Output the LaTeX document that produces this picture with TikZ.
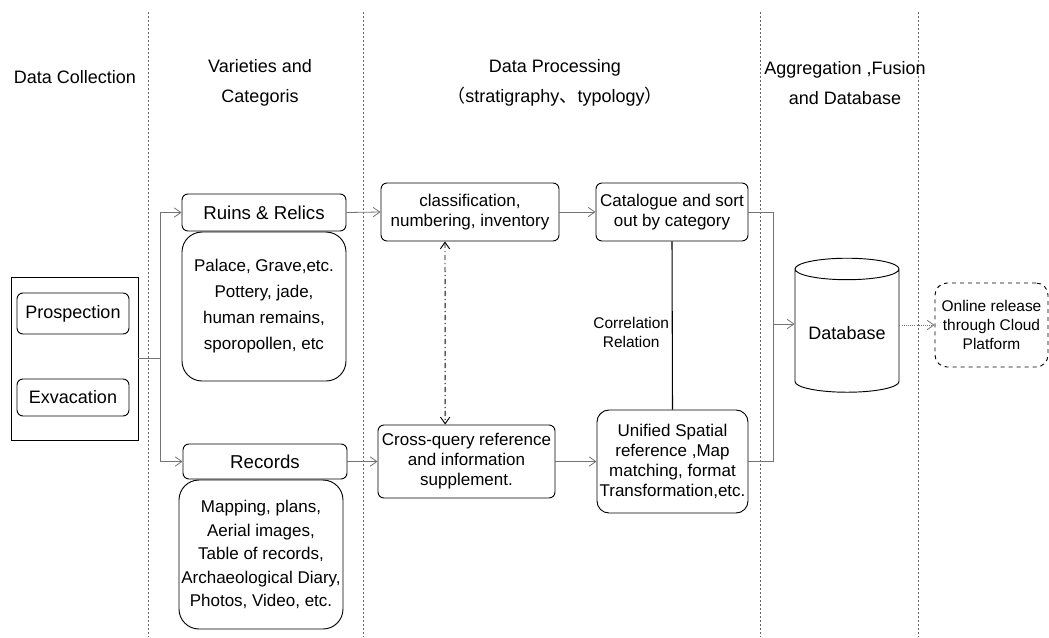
\documentclass[tikz,border=0pt]{standalone}
\usepackage{fontspec}
\setmainfont{Liberation Sans}
\newfontfamily\cjkfont{Noto Sans CJK SC}
\usetikzlibrary{shapes.geometric,arrows.meta}

\begin{document}
\begin{tikzpicture}[x=0.75pt, y=-0.75pt,
  box/.style={draw, rounded corners=4.5pt, line width=0.7pt, align=center, inner sep=1pt},
  bigbox/.style={box, rounded corners=15pt},
  conn/.style={draw=black!55, line width=0.6pt, -{Straight Barb[length=5pt, width=7pt]}},
  sepline/.style={draw=black!60, dash pattern=on 1.5pt off 1.5pt, line width=0.5pt},
  head/.style={align=center, font=\fontsize{13.5}{22.5}\selectfont},
  txt/.style={font=\fontsize{12.75}{15}\selectfont}]
  \useasboundingbox (0,0) rectangle (1049,637);
  % column separators
  \draw[sepline] (148,12) -- (148,637);
  \draw[sepline] (363,12) -- (363,637);
  \draw[sepline] (760,12) -- (760,637);
  \draw[sepline] (918,12) -- (918,637);
  % headers
  \node[head] (hcollect) at (75,77) {Data Collection};
  \node[head] (hvariety) at (260,83) {Varieties and\\Categoris};
  \node[head] (hprocess) at (555,83) {Data Processing\\{\cjkfont （}stratigraphy{\cjkfont 、}typology{\cjkfont ）}};
  \node[head] (haggreg) at (845,83) {Aggregation ,Fusion\\and Database};
  % data collection
  \node[draw, line width=0.7pt, minimum width=95.25pt, minimum height=122.25pt] (collect) at (74.5,358.5) {};
  \node[box, font=\fontsize{13.5}{16}\selectfont, minimum width=84pt, minimum height=30.75pt] (prosp) at (73,313.5) {Prospection};
  \node[box, font=\fontsize{13.5}{16}\selectfont, minimum width=84pt, minimum height=27.75pt] (exva) at (73,397.5) {Exvacation};
  % varieties and categories
  \node[box, font=\fontsize{14}{16}\selectfont, minimum width=123pt, minimum height=27.75pt] (ruins) at (264,212.5) {Ruins \& Relics};
  \node[bigbox, font=\fontsize{12.75}{19.5}\selectfont, minimum width=123pt, minimum height=111.75pt] (ruinsdet) at (264,306.5)
    {Palace, Grave,etc.\\Pottery, jade,\\human remains,\\sporopollen, etc};
  \node[box, font=\fontsize{14}{16}\selectfont, minimum width=123pt, minimum height=26.25pt] (records) at (265,461.5) {Records};
  \node[bigbox, font=\fontsize{12.75}{17.6}\selectfont, minimum width=123pt, minimum height=111.75pt] (recdet) at (261,554.5)
    {Mapping, plans,\\Aerial images,\\Table of records,\\Archaeological Diary,\\Photos, Video, etc.};
  % data processing
  \node[box, txt, minimum width=133.5pt, minimum height=43.5pt] (classif) at (470,212) {classification,\\numbering, inventory};
  \node[box, txt, minimum width=114pt, minimum height=43.5pt] (catal) at (672,212) {Catalogue and sort\\out by category};
  \node[box, txt, minimum width=132.75pt, minimum height=54.75pt] (cross) at (466.5,461.5) {Cross-query reference\\and information\\supplement.};
  \node[box, txt, rounded corners=9pt, minimum width=113.25pt, minimum height=77.25pt] (unified) at (672.5,461.5)
    {Unified Spatial\\reference ,Map\\matching, format\\Transformation,etc.};
  % database and release
  \node[draw, line width=0.7pt, cylinder, shape border rotate=90, aspect=0.25, minimum width=78pt, minimum height=100.5pt,
    font=\fontsize{13.5}{16}\selectfont] (db) at (847,333) {Database};
  \node[draw, dashed, line width=0.7pt, rounded corners=9pt, align=center, minimum width=84.75pt, minimum height=63pt,
    inner sep=1pt, font=\fontsize{11.6}{14.25}\selectfont] (online) at (991.5,325) {Online release\\through Cloud\\Platform};
  % connectors
  \coordinate (split) at (160,358.5);
  \draw[draw=black!55, line width=0.6pt] (collect.east) -- (split);
  \draw[conn] (split) |- (ruins.west);
  \draw[conn] (split) |- (records.west);
  \draw[conn] (ruins.east) -- (classif.west);
  \draw[conn] (records.east) -- (cross.west);
  \draw[conn] (classif.east) -- (catal.west);
  \draw[conn] (cross.east) -- (unified.west);
  \draw[{Straight Barb[length=5pt, width=7pt]}-{Straight Barb[length=5pt, width=7pt]}, line width=0.7pt,
    dash pattern=on 4pt off 2pt on 1pt off 2pt] ([xshift=-18.75pt]classif.south) -- ([xshift=-16pt]cross.north);
  \draw[line width=0.8pt] (catal.south) -- (unified.north)
    node[midway, left, yshift=-5pt, inner sep=2pt, align=center, font=\fontsize{11.6}{14.25}\selectfont] (corr) {Correlation\\Relation};
  \coordinate (merge) at (773,324);
  \draw[draw=black!55, line width=0.6pt] (catal.east) -| (merge);
  \draw[draw=black!55, line width=0.6pt] (unified.east) -| (merge);
  \draw[conn] (merge) -- (merge -| db.west);
  \draw[conn, densely dotted] (db.east |- online.west) -- (online.west);
\end{tikzpicture}
\end{document}
